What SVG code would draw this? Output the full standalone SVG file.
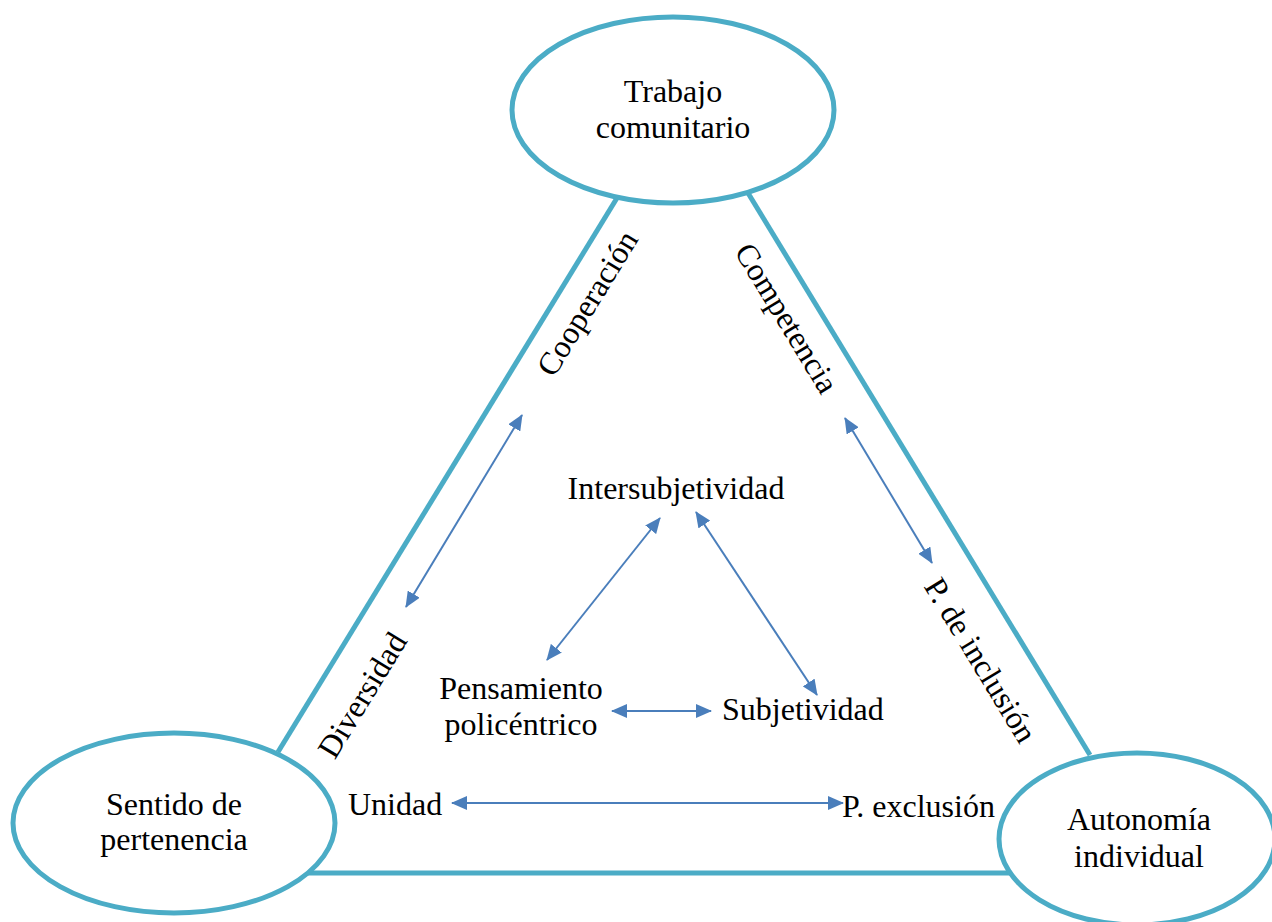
<svg xmlns="http://www.w3.org/2000/svg" width="1272" height="922" viewBox="0 0 1272 922">
<style>
.side{stroke:#4BACC6;stroke-width:5;fill:none}
.node{stroke:#4BACC6;stroke-width:5;fill:#fff}
.arr{stroke:#4A7EBB;stroke-width:2;fill:none;marker-start:url(#ah);marker-end:url(#ah)}
text{font-family:"Liberation Serif","Times New Roman",serif;fill:#000}
.big{font-size:32px;text-anchor:middle}
.lbl{font-size:32px}
.mid{text-anchor:middle}
</style>
<defs>
<marker id="ah" viewBox="0 0 16 14" refX="15" refY="7" markerWidth="16" markerHeight="14" markerUnits="userSpaceOnUse" orient="auto-start-reverse">
<path d="M0,0 L16,7 L0,14 z" fill="#4A7EBB"/>
</marker>
</defs>
<rect width="1272" height="922" fill="#fff"/>
<g id="sides">
<line class="side" x1="617" y1="198" x2="278" y2="752"/>
<line class="side" x1="748" y1="193" x2="1090" y2="755"/>
<line class="side" x1="300" y1="873" x2="1012" y2="873"/>
</g>
<g id="node-trabajo">
<ellipse class="node" cx="673" cy="110" rx="161" ry="93"/>
<text class="big" x="673" y="102">Trabajo</text>
<text class="big" x="673" y="138">comunitario</text>
</g>
<g id="node-sentido">
<ellipse class="node" cx="174" cy="823" rx="161" ry="90"/>
<text class="big" x="174" y="815">Sentido de</text>
<text class="big" x="174" y="850">pertenencia</text>
</g>
<g id="node-autonomia">
<ellipse class="node" cx="1137" cy="839" rx="138" ry="86"/>
<text class="big" x="1139" y="830">Autonomía</text>
<text class="big" x="1139" y="867">individual</text>
</g>
<g id="connectors">
<line class="arr" x1="406" y1="607" x2="522" y2="415"/>
<line class="arr" x1="547" y1="660" x2="660" y2="518"/>
<line class="arr" x1="696" y1="512" x2="817" y2="695"/>
<line class="arr" x1="612" y1="711" x2="711" y2="711"/>
<line class="arr" x1="845" y1="418" x2="932" y2="563"/>
<line class="arr" x1="452" y1="803" x2="843" y2="803"/>
</g>
<g id="labels">
<text class="lbl mid" x="676" y="499">Intersubjetividad</text>
<text class="lbl mid" x="521" y="699">Pensamiento</text>
<text class="lbl mid" x="521" y="735">policéntrico</text>
<text class="lbl" x="722" y="720">Subjetividad</text>
<text class="lbl" x="348" y="815">Unidad</text>
<text class="lbl" x="842" y="817">P. exclusión</text>
<text class="lbl mid" transform="translate(587,303) rotate(-58.5)" x="0" y="11">Cooperación</text>
<text class="lbl mid" transform="translate(362,695) rotate(-58.5)" x="0" y="11">Diversidad</text>
<text class="lbl mid" transform="translate(787,318) rotate(58.7)" x="0" y="11">Competencia</text>
<text class="lbl mid" transform="translate(981,660) rotate(58.7)" x="0" y="11">P. de inclusión</text>
</g>
</svg>
